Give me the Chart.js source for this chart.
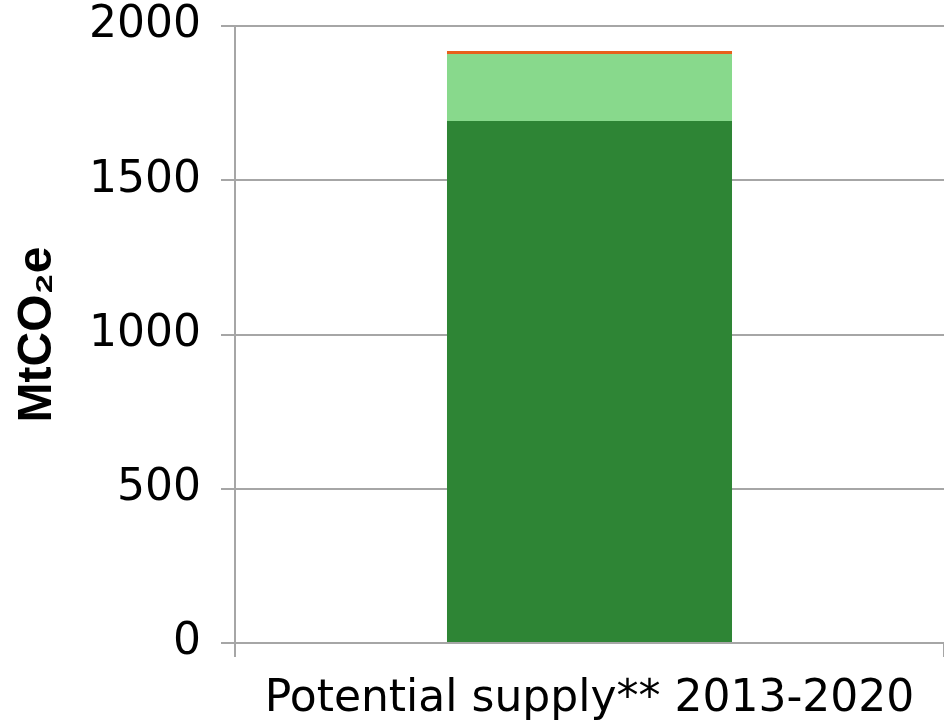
<!DOCTYPE html>
<html>
<head>
<meta charset="utf-8">
<script src="https://cdn.jsdelivr.net/npm/chart.js@4"></script>
<style>
  html, body { margin: 0; padding: 0; background: #fff; }
  canvas { display: block; }
</style>
</head>
<body>
<canvas id="chart" width="944" height="725"></canvas>
<script>
// values (MtCO2e)
const categories = ['Potential supply** 2013-2020'];
const baseSupply = [1692];
const extraSupply = [217];
const otherSupply = [10];
const yTicks = [0, 500, 1000, 1500, 2000];

const gridGrey = '#a6a6a6';

function loadChart() {
  const ctx = document.getElementById('chart').getContext('2d');
  new Chart(ctx, {
    type: 'bar',
    data: {
      labels: categories,
      datasets: [
        { label: 'base', data: baseSupply, backgroundColor: '#2e8535' },
        { label: 'extra', data: extraSupply, backgroundColor: '#88d98c' },
        { label: 'other', data: otherSupply, backgroundColor: '#e8601c' },
      ],
    },
    options: {
      responsive: false,
      animation: false,
      layout: { padding: { top: 26, right: 0, left: 0, bottom: 0 } },
      datasets: {
        bar: { categoryPercentage: 0.402, barPercentage: 1 },
      },
      plugins: {
        legend: { display: false },
        tooltip: { enabled: false },
      },
      scales: {
        x: {
          stacked: true,
          grid: {
            drawOnChartArea: false,
            drawTicks: true,
            tickLength: 14,
            color: gridGrey,
            lineWidth: 2,
          },
          border: { color: gridGrey, width: 2 },
          ticks: {
            color: '#000',
            font: { family: 'DejaVu Sans', size: 44 },
            padding: 16,
          },
          afterFit: (axis) => {
            axis.height = 82;
            axis.paddingLeft = 0;
            axis.paddingRight = 0;
          },
        },
        y: {
          stacked: true,
          min: 0,
          max: 2000,
          afterBuildTicks: (axis) => {
            axis.ticks = yTicks.map((v) => ({ value: v }));
          },
          grid: {
            color: gridGrey,
            lineWidth: 2,
            tickLength: 14,
          },
          border: { color: gridGrey, width: 2 },
          ticks: {
            color: '#000',
            font: { family: 'DejaVu Sans', size: 44 },
            padding: 20,
            callback: (v) => String(v),
          },
          title: {
            display: true,
            text: 'MtCO₂e',
            color: '#000',
            font: { family: 'Liberation Sans', size: 48, weight: 'bold' },
            padding: { top: 9, bottom: 0 },
          },
          afterFit: (axis) => {
            axis.width = 235;
            axis.paddingTop = 0;
            axis.paddingBottom = 0;
          },
        },
      },
    },
  });
}

window.onload = loadChart;
</script>
</body>
</html>
